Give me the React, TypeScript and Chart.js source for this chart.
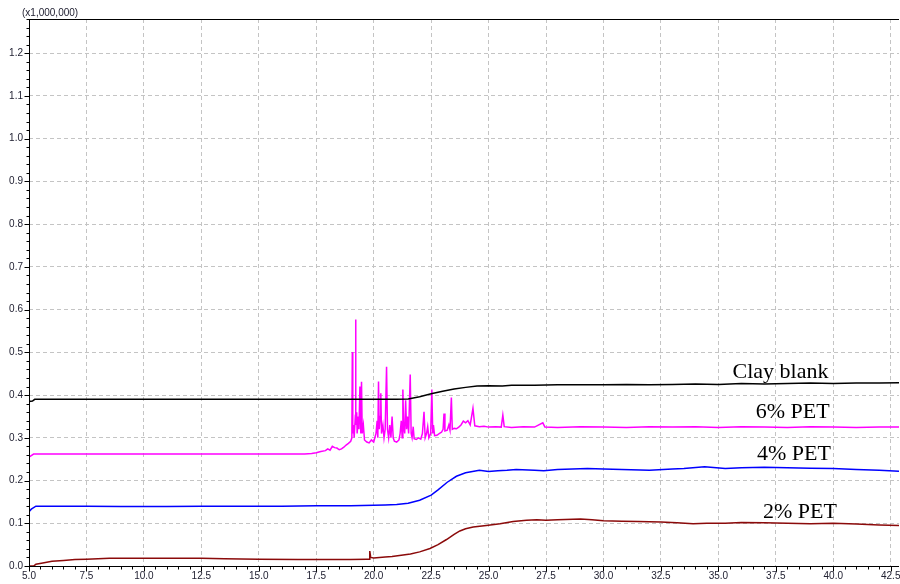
import React, { useEffect, useRef } from "react";
import { Chart, registerables } from "chart.js";

Chart.register(...registerables);

// ---------- data (retention time in min, intensity in x1,000,000) ----------
const clayX = [5.0, 5.15, 5.25, 7.5, 10, 12.5, 15, 17.5, 20, 21.0, 21.5, 22.0, 22.5, 23.0, 23.5, 24.0, 24.5, 25.0, 25.6, 26.0, 27.0, 28.0, 29.0, 30.0, 31.0, 32.0, 33.0, 34.0, 35.0, 36.0, 37.0, 38.0, 39.0, 40.0, 41.0, 42.0, 42.86];
const clayY = [0.385, 0.386, 0.390, 0.390, 0.390, 0.390, 0.390, 0.390, 0.390, 0.390, 0.391, 0.396, 0.403, 0.409, 0.414, 0.418, 0.421, 0.422, 0.421, 0.423, 0.423, 0.424, 0.424, 0.424, 0.425, 0.424, 0.425, 0.426, 0.425, 0.427, 0.426, 0.427, 0.428, 0.427, 0.428, 0.428, 0.429];

const pet6X = [5.0, 5.2, 7.5, 10, 12.5, 15, 17.0, 17.3, 17.5, 17.7, 17.9, 18.0, 18.1, 18.2, 18.3, 18.4, 18.5, 18.6, 18.7, 18.8, 18.9, 19.0, 19.05, 19.07, 19.09, 19.12, 19.15, 19.19, 19.21, 19.23, 19.26, 19.28, 19.33, 19.36, 19.40, 19.44, 19.47, 19.5, 19.55, 19.6, 19.7, 19.8, 19.9, 20.0, 20.05, 20.1, 20.15, 20.18, 20.21, 20.24, 20.28, 20.31, 20.34, 20.4, 20.45, 20.5, 20.56, 20.6, 20.65, 20.7, 20.75, 20.8, 20.85, 20.9, 21.0, 21.1, 21.15, 21.2, 21.24, 21.27, 21.3, 21.35, 21.39, 21.43, 21.47, 21.52, 21.59, 21.63, 21.67, 21.72, 21.76, 21.85, 21.95, 22.05, 22.12, 22.19, 22.24, 22.3, 22.35, 22.4, 22.48, 22.53, 22.57, 22.6, 22.65, 22.75, 22.85, 22.95, 23.02, 23.06, 23.1, 23.2, 23.27, 23.32, 23.38, 23.42, 23.5, 23.6, 23.7, 23.8, 23.9, 24.0, 24.1, 24.2, 24.32, 24.4, 24.6, 24.8, 25.0, 25.3, 25.55, 25.62, 25.68, 26.0, 26.5, 27.0, 27.36, 27.45, 28.0, 29.0, 30.0, 31.0, 32.0, 33.0, 34.0, 35.0, 36.0, 37.0, 38.0, 39.0, 40.0, 41.0, 42.0, 42.86];
const pet6Y = [0.255, 0.262, 0.262, 0.262, 0.262, 0.262, 0.262, 0.263, 0.265, 0.268, 0.270, 0.274, 0.271, 0.280, 0.277, 0.276, 0.272, 0.274, 0.278, 0.283, 0.287, 0.292, 0.300, 0.501, 0.310, 0.330, 0.300, 0.340, 0.577, 0.330, 0.360, 0.310, 0.350, 0.320, 0.420, 0.310, 0.431, 0.310, 0.330, 0.295, 0.290, 0.288, 0.295, 0.290, 0.300, 0.310, 0.340, 0.300, 0.432, 0.320, 0.350, 0.404, 0.310, 0.330, 0.300, 0.320, 0.466, 0.320, 0.300, 0.330, 0.300, 0.350, 0.300, 0.292, 0.290, 0.295, 0.310, 0.340, 0.300, 0.413, 0.330, 0.310, 0.388, 0.320, 0.350, 0.310, 0.448, 0.310, 0.300, 0.326, 0.298, 0.296, 0.300, 0.297, 0.310, 0.361, 0.300, 0.310, 0.326, 0.300, 0.310, 0.413, 0.310, 0.330, 0.305, 0.306, 0.310, 0.313, 0.320, 0.357, 0.316, 0.318, 0.330, 0.318, 0.394, 0.320, 0.322, 0.321, 0.325, 0.330, 0.339, 0.335, 0.340, 0.330, 0.369, 0.328, 0.326, 0.327, 0.325, 0.326, 0.325, 0.353, 0.326, 0.324, 0.326, 0.325, 0.335, 0.325, 0.324, 0.326, 0.325, 0.324, 0.326, 0.325, 0.326, 0.324, 0.326, 0.325, 0.324, 0.326, 0.325, 0.324, 0.325, 0.325];

const pet4X = [5.0, 5.1, 5.3, 6.0, 7.5, 9.0, 10.0, 11.0, 12.5, 14.0, 15.0, 16.0, 17.5, 19.0, 20.0, 20.5, 21.0, 21.5, 22.0, 22.5, 22.8, 23.2, 23.6, 24.0, 24.3, 24.6, 25.0, 25.4, 25.8, 26.2, 27.0, 27.4, 28.0, 29.3, 30.0, 30.8, 32.0, 33.0, 33.5, 34.4, 35.3, 36.0, 37.0, 38.0, 39.0, 40.0, 41.0, 42.0, 42.86];
const pet4Y = [0.127, 0.133, 0.140, 0.140, 0.140, 0.139, 0.139, 0.139, 0.140, 0.140, 0.140, 0.140, 0.141, 0.141, 0.142, 0.143, 0.144, 0.147, 0.154, 0.166, 0.178, 0.196, 0.210, 0.218, 0.221, 0.224, 0.221, 0.223, 0.224, 0.226, 0.224, 0.223, 0.226, 0.228, 0.227, 0.226, 0.224, 0.227, 0.228, 0.232, 0.228, 0.230, 0.231, 0.230, 0.229, 0.228, 0.226, 0.224, 0.222];

const pet2X = [5.0, 5.2, 5.3, 5.6, 6.0, 6.5, 7.0, 7.5, 8.5, 9.0, 10.0, 11.0, 12.5, 13.5, 15.0, 16.7, 18.0, 19.0, 19.7, 19.8, 19.83, 19.87, 20.0, 20.5, 20.8, 21.2, 21.6, 22.0, 22.45, 22.8, 23.17, 23.5, 23.75, 24.0, 24.33, 24.9, 25.5, 26.07, 26.65, 27.1, 27.5, 28.0, 29.0, 29.5, 30.0, 30.8, 31.5, 32.5, 33.2, 33.9, 34.5, 35.3, 36.0, 37.0, 38.0, 39.0, 40.0, 41.0, 42.0, 42.86];
const pet2Y = [0.0, 0.0, 0.004, 0.007, 0.011, 0.013, 0.015, 0.016, 0.018, 0.018, 0.018, 0.018, 0.018, 0.017, 0.016, 0.015, 0.015, 0.015, 0.016, 0.016, 0.035, 0.020, 0.019, 0.021, 0.022, 0.025, 0.028, 0.033, 0.041, 0.050, 0.062, 0.074, 0.082, 0.087, 0.091, 0.095, 0.099, 0.104, 0.107, 0.108, 0.107, 0.108, 0.110, 0.108, 0.106, 0.105, 0.104, 0.103, 0.101, 0.099, 0.100, 0.100, 0.102, 0.101, 0.100, 0.099, 0.100, 0.098, 0.096, 0.095];

const seriesNames = ["Clay blank", "6% PET", "4% PET", "2% PET"];
const seriesColors = ["#000000", "#ff00ff", "#0000ff", "#8b0a0a"];
const labelX = [37.7, 38.23, 38.29, 38.55];
const labelY = [0.44, 0.346, 0.248, 0.112];

const xMin = 5.0;
const xMax = 42.86;
const yMin = 0;
const yMax = 1.28;
const xMajorStep = 2.5;
const xMinorStep = 0.5;
const yMajorStep = 0.1;
const yMinorStep = 0.02;
const yScaleNote = "(x1,000,000)";

const tickFont = { family: "'Liberation Sans', Arial, sans-serif", size: 10 };
const tickColor = "#222233";

const toPoints = (xs: number[], ys: number[]) => xs.map((x, i) => ({ x, y: ys[i] }));

const decorPlugin = {
  id: "decor",
  afterDraw(chart: any) {
    const { ctx, chartArea } = chart;
    const xs = chart.scales.x;
    const ys = chart.scales.y;
    const { left, right, top, bottom } = chartArea;
    ctx.save();
    ctx.strokeStyle = "#000";
    ctx.lineWidth = 1;
    ctx.setLineDash([]);
    ctx.beginPath();
    ctx.moveTo(left + 0.5, top);
    ctx.lineTo(left + 0.5, bottom + 0.5);
    ctx.moveTo(left, bottom + 0.5);
    ctx.lineTo(right, bottom + 0.5);
    ctx.moveTo(left, top + 0.5);
    ctx.lineTo(right, top + 0.5);
    const nY = Math.floor((yMax - yMin) / yMinorStep + 1e-6);
    const ratioY = Math.round(yMajorStep / yMinorStep);
    for (let i = 0; i <= nY; i++) {
      const v = yMin + i * yMinorStep;
      const py = Math.round(ys.getPixelForValue(v)) + 0.5;
      const len = i % ratioY === 0 ? 5 : 3;
      ctx.moveTo(left + 0.5 - len, py);
      ctx.lineTo(left + 0.5, py);
    }
    const nX = Math.floor((xMax - xMin) / xMinorStep + 1e-6);
    const ratioX = Math.round(xMajorStep / xMinorStep);
    for (let i = 0; i <= nX; i++) {
      const v = xMin + i * xMinorStep;
      const px = Math.round(xs.getPixelForValue(v)) + 0.5;
      const len = i % ratioX === 0 ? 5 : 3;
      ctx.moveTo(px, bottom + 0.5);
      ctx.lineTo(px, bottom + 0.5 + len);
    }
    ctx.stroke();

    ctx.fillStyle = tickColor;
    ctx.font = "10px 'Liberation Sans', Arial, sans-serif";
    ctx.textAlign = "left";
    ctx.textBaseline = "middle";
    ctx.fillText(yScaleNote, 22, 13);

    ctx.fillStyle = "#000";
    ctx.font = "22px 'Liberation Serif', 'Times New Roman', serif";
    ctx.textAlign = "center";
    ctx.textBaseline = "alphabetic";
    seriesNames.forEach((name, i) => {
      ctx.fillText(name, xs.getPixelForValue(labelX[i]), ys.getPixelForValue(labelY[i]));
    });
    ctx.restore();
  },
};

export default function App() {
  const canvasRef = useRef<HTMLCanvasElement | null>(null);

  useEffect(() => {
    document.body.style.margin = "0";
    const canvas = canvasRef.current;
    if (!canvas) return;
    const data = [toPoints(clayX, clayY), toPoints(pet6X, pet6Y), toPoints(pet4X, pet4Y), toPoints(pet2X, pet2Y)];
    const chart = new Chart(canvas, {
      type: "line",
      data: {
        datasets: seriesNames.map((name, i) => ({
          label: name,
          data: data[i],
          borderColor: seriesColors[i],
          backgroundColor: seriesColors[i],
          borderWidth: 1.5,
          pointRadius: 0,
          tension: 0,
          fill: false,
        })),
      },
      options: {
        responsive: false,
        maintainAspectRatio: false,
        devicePixelRatio: 1,
        animation: false,
        layout: { padding: { top: 19, right: 1, left: 0, bottom: 0 } },
        plugins: { legend: { display: false }, tooltip: { enabled: false } },
        scales: {
          x: {
            type: "linear",
            min: xMin,
            max: xMax,
            afterFit: (s: any) => { s.height = 18; s.paddingLeft = 0; s.paddingRight = 0; },
            ticks: {
              stepSize: xMajorStep,
              includeBounds: false,
              maxRotation: 0,
              autoSkip: false,
              padding: 4,
              font: tickFont,
              color: tickColor,
              callback: (v: any) => Number(v).toFixed(1),
            },
            grid: { color: "#c4c4c4", lineWidth: 1, drawTicks: false },
            border: { display: false, dash: [4, 3] },
          },
          y: {
            type: "linear",
            min: yMin,
            max: yMax,
            afterFit: (s: any) => { s.width = 29; s.paddingTop = 0; s.paddingBottom = 0; },
            ticks: {
              stepSize: yMajorStep,
              includeBounds: false,
              autoSkip: false,
              padding: 6,
              font: tickFont,
              color: tickColor,
              callback: (v: any) => Number(v).toFixed(1),
            },
            grid: { color: "#c4c4c4", lineWidth: 1, drawTicks: false },
            border: { display: false, dash: [4, 3] },
          },
        },
      },
      plugins: [decorPlugin],
    } as any);
    return () => chart.destroy();
  }, []);

  return (
    <div style={{ width: 900, height: 584 }}>
      <canvas ref={canvasRef} width={900} height={584} style={{ display: "block" }} />
    </div>
  );
}
